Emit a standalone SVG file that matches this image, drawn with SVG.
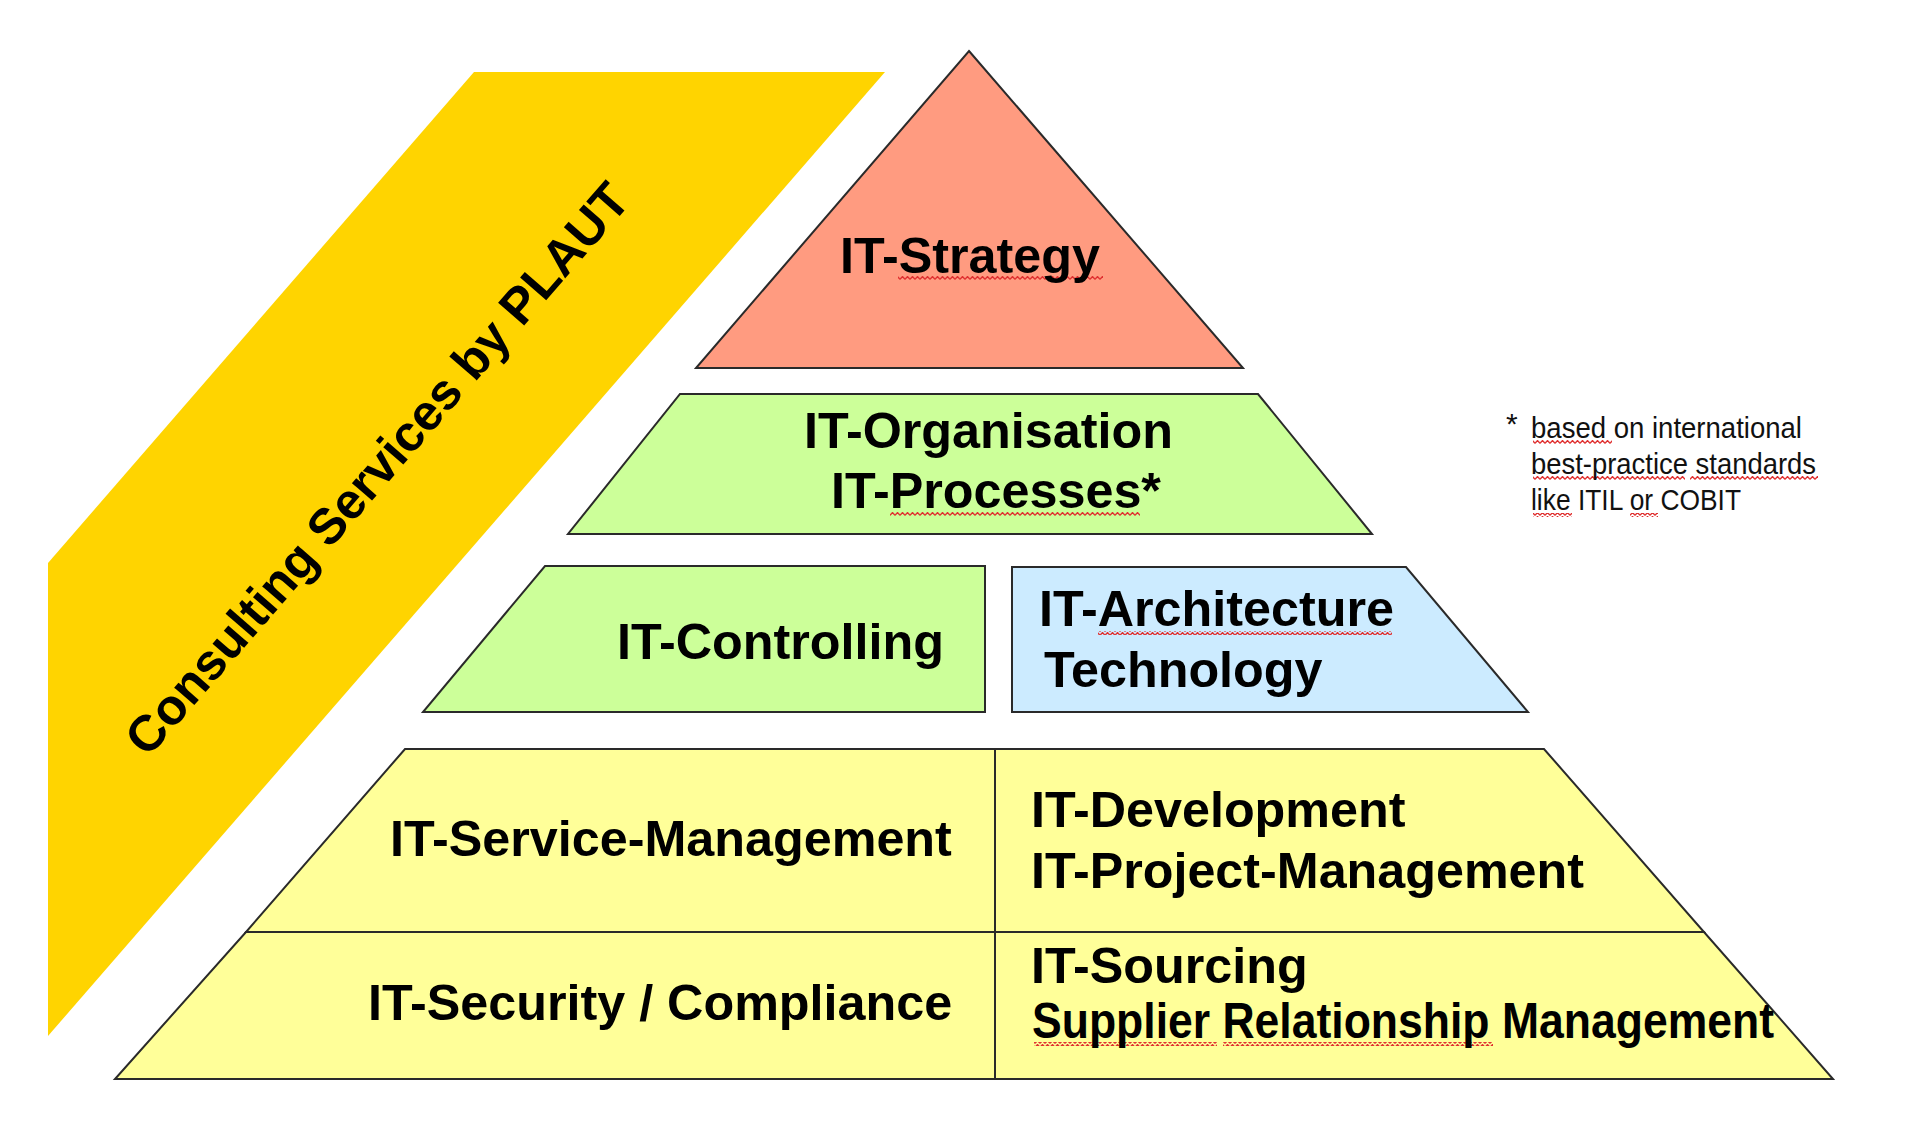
<svg xmlns="http://www.w3.org/2000/svg" width="1920" height="1143" viewBox="0 0 1920 1143">
  <defs>
    <pattern id="wavy" x="0" y="0" width="5" height="4" patternUnits="userSpaceOnUse">
      <path d="M0,3.4 L2.5,0.6 L5,3.4" fill="none" stroke="#E03030" stroke-width="1.4"/>
    </pattern>
  </defs>
  <style>
    .shape { stroke: #2a2a2a; stroke-width: 2; stroke-linejoin: miter; }
    .band { fill: #FFD400; stroke: none; }
    .strategy { fill: #FF9B80; }
    .green { fill: #CCFF99; }
    .blue { fill: #CCEBFF; }
    .yellow { fill: #FFFF99; }
    .lbl { font-family: "Liberation Sans", Arial, sans-serif; font-weight: bold; font-size: 50.3px; fill: #000; }
    .note { font-family: "Liberation Sans", Arial, sans-serif; font-size: 30px; fill: #111; }
    .sq { fill: url(#wavy); }
  </style>
  <rect width="1920" height="1143" fill="#FFFFFF"/>

  <g id="consulting-band">
    <polygon class="band" points="474,72 885,72 48,1036 48,563"/>
    <text class="lbl" font-size="51.5" text-anchor="middle" transform="translate(390,480) rotate(-49)">Consulting Services by PLAUT</text>
  </g>

  <g id="it-strategy">
    <polygon class="shape strategy" points="969,51 1243,368 696,368"/>
    <rect class="sq" x="898" y="276" width="205" height="4"/>
    <text class="lbl" x="840" y="273">IT-Strategy</text>
  </g>

  <g id="it-organisation">
    <polygon class="shape green" points="680,394 1258,394 1372,534 568,534"/>
    <rect class="sq" x="890" y="512" width="250" height="4"/>
    <text class="lbl" x="804" y="448">IT-Organisation</text>
    <text class="lbl" x="831" y="508">IT-Processes*</text>
  </g>

  <g id="it-controlling">
    <polygon class="shape green" points="545,566 985,566 985,712 423,712"/>
    <text class="lbl" x="617" y="659">IT-Controlling</text>
  </g>

  <g id="it-architecture">
    <polygon class="shape blue" points="1012,567 1406,567 1528,712 1012,712"/>
    <rect class="sq" x="1098" y="631" width="294" height="4"/>
    <text class="lbl" x="1039" y="626">IT-Architecture</text>
    <text class="lbl" x="1044" y="687">Technology</text>
  </g>

  <g id="it-service-management">
    <polygon class="shape yellow" points="405,749 995,749 995,932 246,932"/>
    <text class="lbl" x="390" y="856">IT-Service-Management</text>
  </g>

  <g id="it-development">
    <polygon class="shape yellow" points="995,749 1544,749 1704,932 995,932"/>
    <text class="lbl" x="1031" y="827">IT-Development</text>
    <text class="lbl" x="1031" y="888" textLength="553" lengthAdjust="spacingAndGlyphs">IT-Project-Management</text>
  </g>

  <g id="it-security">
    <polygon class="shape yellow" points="246,932 995,932 995,1079 115,1079"/>
    <text class="lbl" x="368" y="1020">IT-Security / Compliance</text>
  </g>

  <g id="it-sourcing">
    <polygon class="shape yellow" points="995,932 1704,932 1833,1079 995,1079"/>
    <rect class="sq" x="1034" y="1042" width="183" height="4"/>
    <rect class="sq" x="1223" y="1042" width="270" height="4"/>
    <text class="lbl" x="1031" y="983">IT-Sourcing</text>
    <text class="lbl" x="1032" y="1038" font-size="43" textLength="742" lengthAdjust="spacingAndGlyphs">Supplier Relationship Management</text>
  </g>

  <g id="footnote">
    <rect class="sq" x="1533" y="440" width="79" height="4"/>
    <rect class="sq" x="1533" y="476" width="152" height="4"/>
    <rect class="sq" x="1690" y="476" width="128" height="4"/>
    <rect class="sq" x="1533" y="513" width="39" height="4"/>
    <rect class="sq" x="1630" y="513" width="28" height="4"/>
    <text class="note" x="1506" y="434">*</text>
    <text class="note" x="1531" y="438" textLength="271" lengthAdjust="spacingAndGlyphs">based on international</text>
    <text class="note" x="1531" y="474" textLength="285" lengthAdjust="spacingAndGlyphs">best-practice standards</text>
    <text class="note" x="1531" y="510" textLength="210" lengthAdjust="spacingAndGlyphs">like ITIL or COBIT</text>
  </g>

  <g id="connectors"></g>
</svg>
